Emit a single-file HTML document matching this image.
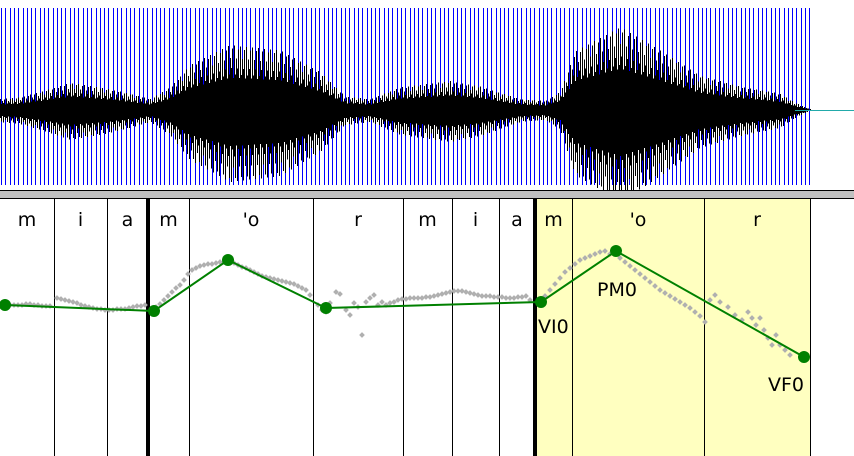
<!DOCTYPE html>
<html><head><meta charset="utf-8">
<style>
html,body{margin:0;padding:0;background:#fff;}
svg{display:block;font-family:"DejaVu Sans","Liberation Sans",sans-serif;}
</style></head>
<body>
<svg id="c" width="854" height="456" viewBox="0 0 854 456">
<g id="wave"></g>
<rect x="0" y="190" width="854" height="8" fill="#c0c0c0"/>
<line x1="0" y1="190.5" x2="854" y2="190.5" stroke="#000" stroke-width="1" shape-rendering="crispEdges"/>
<line x1="0" y1="198.5" x2="854" y2="198.5" stroke="#000" stroke-width="1" shape-rendering="crispEdges"/>
<rect x="535" y="199" width="275" height="257" fill="#ffffc0"/>
<g id="tiers"></g>
<g id="pitch"></g>
<g id="stylized"></g>
<text x="538" y="333" font-size="19">VI0</text>
<text x="597" y="296" font-size="19">PM0</text>
<text x="768" y="391" font-size="19">VF0</text>
</svg>
<script>
// segment data
var bounds=[54,107,148,189,313,403,452,499,535,572,704,810];
var thick=[148,535];
var segLabels=["m","i","a","m","'o","r","m","i","a","m","'o","r"];
var segStarts=[0,54,107,148,189,313,403,452,499,535,572,704];
// stylized contour targets
var targetX=[5,154,228,326,541,616,804];
var targetY=[305,311,260,308,302,251,357];
// raw pitch samples
var pitchX=[10,14,18,22,26,30,34,38,42,46,50,57,61,65,69,73,77,81,85,89,93,97,101,105,109,113,117,121,125,129,133,137,141,145,
156,160,164,168,172,176,180,184,188,192,196,200,204,208,212,216,220,224,230,234,238,242,246,250,254,258,262,266,270,274,278,282,286,290,294,298,302,306,310,
318,322,326,330,336,340,346,350,354,358,362,366,370,374,378,382,386,390,394,398,402,406,410,414,418,422,426,430,434,438,442,446,450,454,458,462,466,470,474,478,482,486,490,494,498,502,506,510,514,518,522,526,530,
545,550,555,560,565,570,575,580,585,590,595,600,605,610,620,625,630,635,640,645,650,655,660,665,670,675,680,685,690,695,700,705,710,715,720,728,735,742,748,752,756,760,764,768,772,776,780,785,790,795];
var pitchY=[305,305,305,305,304,304,305,305,306,306,306,298,299,300,301,302,303,305,306,307,308,309,309,310,310,310,309,309,309,308,307,306,306,305,
307,304,300,296,292,288,285,280,274,270,268,266,265,264,264,263,262,262,262,263,265,267,268,270,272,274,276,277,278,279,280,281,282,283,284,286,288,290,295,
305,310,312,303,292,294,310,315,303,307,335,302,298,295,305,302,305,303,302,300,299,299,298,298,298,298,297,297,296,295,294,293,292,291,291,291,292,293,294,295,296,296,296,297,297,297,298,298,298,297,297,296,
300,296,290,284,278,272,268,264,260,258,256,254,252,251,254,258,262,266,270,274,278,282,286,290,293,296,299,302,305,308,312,316,322,300,295,302,307,315,320,312,318,325,318,330,338,345,335,345,350,355];
// waveform envelope (half amplitude in px)
var envX=[0,20,40,70,100,130,150,170,190,230,280,320,345,370,400,450,480,520,545,560,575,620,660,700,740,780,795,805,812];
var envA=[12,14,20,30,25,18,12,25,50,72,66,42,15,12,25,32,26,12,10,20,65,92,66,38,26,18,8,3,0];

var NS="http://www.w3.org/2000/svg";
function mk(t,a,p){var e=document.createElementNS(NS,t);for(var k in a)e.setAttribute(k,a[k]);p.appendChild(e);return e;}
function env(x){for(var i=1;i<envX.length;i++){if(x<=envX[i]){var t=(x-envX[i-1])/(envX[i]-envX[i-1]);return envA[i-1]+t*(envA[i]-envA[i-1]);}}return 0;}

var wave=document.getElementById('wave');
// blue pitch marks
var d="";
for(var x=1;x<=810;x+=4.3){d+="M"+(Math.round(x)+0.5)+" 8V185";}
var bl=mk('path',{d:d,stroke:"#0000ff","stroke-width":"1",fill:"none","shape-rendering":"crispEdges"},wave);


// waveform
var wd="";var cy=110;
var pat=[1,0.55,0.8,0.65,0.95,0.5];
for(var x=0;x<=812;x+=1){var a=env(x);var k=x%6;var f=pat[k];var g=pat[(k+3)%6];
 wd+="M"+(x+0.5)+" "+(cy-a*f*0.9).toFixed(1)+"V"+(cy+a*g).toFixed(1);}
var wp=mk('path',{d:wd,stroke:"#000","stroke-width":"1",fill:"none","shape-rendering":"crispEdges"},wave);


var core="";
for(var x=0;x<=812;x+=1){var a=env(x)*0.45;core+="M"+(x+0.5)+" "+(cy-a).toFixed(1)+"V"+(cy+a).toFixed(1);}
mk('path',{d:core,stroke:"#000","stroke-width":"1",fill:"none","shape-rendering":"crispEdges"},wave);
mk('line',{x1:795,y1:110.5,x2:854,y2:110.5,stroke:"#2aa","stroke-width":"1"},wave);

var tiers=document.getElementById('tiers');
bounds.forEach(function(b){
 var th=thick.indexOf(b)>=0;
 var l=mk('line',{x1:th?b:b+0.5,y1:199,x2:th?b:b+0.5,y2:456,stroke:"#000","stroke-width":th?4:1,"shape-rendering":"crispEdges"},tiers);
 
 
});
segLabels.forEach(function(s,i){
 var cx=(segStarts[i]+bounds[i])/2;
 var t=mk('text',{x:cx,y:226,"font-size":"19","text-anchor":"middle"},tiers);
 t.textContent=s;
 
 
});

var pitch=document.getElementById('pitch');
var n=Math.min(pitchX.length,pitchY.length);
for(var i=0;i<n;i++){
 var r=mk('rect',{x:pitchX[i]-2,y:pitchY[i]-2,width:4,height:4,fill:"#b0b0b0",transform:"rotate(45 "+pitchX[i]+" "+pitchY[i]+")"},pitch);
 
 
}

var st=document.getElementById('stylized');
var pts=targetX.map(function(x,i){return x+","+targetY[i];}).join(" ");
var pl=mk('polyline',{points:pts,fill:"none",stroke:"#008000","stroke-width":"2"},st);


targetX.forEach(function(x,i){
 var c=mk('circle',{cx:x,cy:targetY[i],r:6,fill:"#008000"},st);
 
 
});
</script>
</body></html>
